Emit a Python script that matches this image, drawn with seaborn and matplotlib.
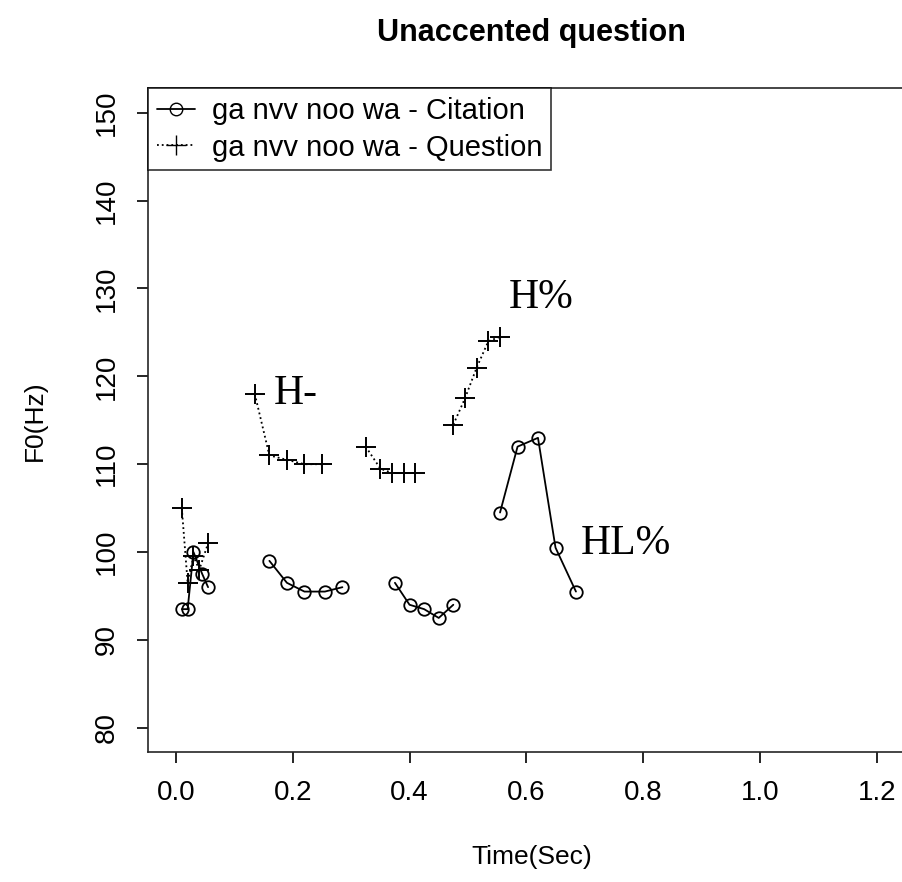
import pandas as pd
import seaborn as sb
import matplotlib.pyplot as plt
from matplotlib.lines import Line2D

# citation contour (circles, solid), four segments
cit_seg = [1]*5 + [2]*5 + [3]*5 + [4]*5
cit_time = [0.01, 0.02, 0.03, 0.045, 0.055,
            0.16, 0.19, 0.22, 0.255, 0.285,
            0.375, 0.40, 0.425, 0.45, 0.475,
            0.555, 0.585, 0.62, 0.65, 0.685]
cit_f0 = [93.5, 93.5, 100, 97.5, 96,
          99, 96.5, 95.5, 95.5, 96,
          96.5, 94, 93.5, 92.5, 94,
          104.5, 112, 113, 100.5, 95.5]

# question contour (plus, dotted)
q_seg = [1]*5 + [2]*5 + [3]*5 + [4]*5
q_time = [0.01, 0.02, 0.03, 0.04, 0.055,
          0.135, 0.16, 0.19, 0.22, 0.25,
          0.325, 0.35, 0.37, 0.39, 0.41,
          0.475, 0.495, 0.515, 0.535, 0.555]
q_f0 = [105, 96.5, 99.5, 98, 101,
        118, 111, 110.5, 110, 110,
        112, 109.5, 109, 109, 109,
        114.5, 117.5, 121, 124, 124.5]

labels = ["H-", "H%", "HL%"]
label_x = [0.205, 0.625, 0.77]
label_y = [118, 129, 101]

cit = pd.DataFrame({"t": cit_time, "f0": cit_f0, "seg": cit_seg})
qq = pd.DataFrame({"t": q_time, "f0": q_f0, "seg": q_seg})

sb.set_style("ticks")
plt.rcParams['font.family'] = ['Liberation Sans', 'DejaVu Sans']
plt.rcParams['text.color'] = 'black'
plt.rcParams['axes.labelcolor'] = 'black'
plt.rcParams['xtick.color'] = 'black'
plt.rcParams['ytick.color'] = 'black'
fig = plt.figure(figsize=(9.02, 8.82), dpi=100)
ax = fig.add_axes([0.164, 0.147, 0.85, 0.753])

sb.lineplot(data=cit, x="t", y="f0", units="seg", estimator=None, sort=False,
            color="black", lw=1.3, marker="o", markersize=9, markerfacecolor="none",
            markeredgecolor="black", markeredgewidth=1.3, ax=ax)
sb.lineplot(data=qq, x="t", y="f0", units="seg", estimator=None, sort=False,
            color="black", lw=1.3, linestyle=":", marker="+", markersize=14,
            markeredgecolor="black", markeredgewidth=1.4, ax=ax)

for s, x, y in zip(labels, label_x, label_y):
    ax.text(x, y, s, fontsize=30, family="Liberation Serif", ha="center", va="center")

ax.set_xlim(-0.048, 1.265)
ax.set_ylim(77.2, 152.8)
ax.set_xticks([0.0, 0.2, 0.4, 0.6, 0.8, 1.0, 1.2])
ax.set_yticks(range(80, 151, 10))
ax.tick_params(labelsize=20, length=8, width=1.2, pad=12)
for lab in ax.get_yticklabels():
    lab.set_rotation(90)
    lab.set_va("center")
for sp in ax.spines.values():
    sp.set_linewidth(1.2)
ax.set_xlabel("Time(Sec)", fontsize=19, labelpad=28)
ax.set_ylabel("F0(Hz)", fontsize=19, labelpad=34)
ax.set_title("Unaccented question", fontsize=22, fontweight="bold", pad=34)

handles = [Line2D([], [], color="black", lw=1.3, marker="o", markerfacecolor="none", markersize=9),
           Line2D([], [], color="black", lw=1.3, ls=":", marker="+", markersize=14)]
ax.legend(handles, ["ga nvv noo wa - Citation", "ga nvv noo wa - Question"],
          loc="upper left", bbox_to_anchor=(0, 1), fontsize=21, frameon=True,
          fancybox=False, edgecolor="black", borderaxespad=0, handlelength=1.3,
          handletextpad=0.6, borderpad=0.3, labelspacing=0.3).get_frame().set_linewidth(1.2)

fig.savefig("out.png", dpi=100)
